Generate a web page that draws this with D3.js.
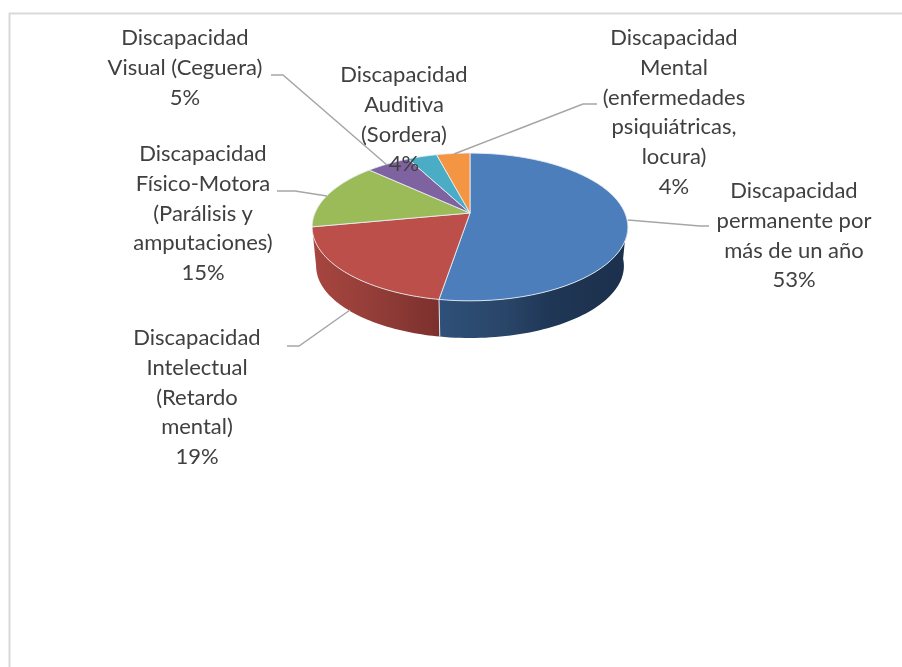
<!DOCTYPE html>
<html><head><meta charset="utf-8">
<style>html,body{margin:0;padding:0;background:#fff}svg{display:block;filter:blur(0.45px)}text{font-variant-ligatures:none}</style>
<script src="https://cdnjs.cloudflare.com/ajax/libs/d3/7.8.5/d3.min.js"></script>
</head><body><svg id="c" width="902" height="667"></svg>
<script>
const categories=["Discapacidad permanente por más de un año","Discapacidad Intelectual (Retardo mental)","Discapacidad Físico-Motora (Parálisis y amputaciones)","Discapacidad Visual (Ceguera)","Discapacidad Auditiva (Sordera)","Discapacidad Mental (enfermedades psiquiátricas, locura)"];
const values=[52.6,19.4,14.9,5.4,3.6,4.1];
const colors=["#4c7ebb","#bd4f4b","#9bbb59","#7f63a1","#4aacc5","#f49544"];
const labelLines=[
 ["Discapacidad","permanente por","más de un año"],
 ["Discapacidad","Intelectual","(Retardo","mental)"],
 ["Discapacidad","Físico-Motora","(Parálisis y","amputaciones)"],
 ["Discapacidad","Visual (Ceguera)"],
 ["Discapacidad","Auditiva","(Sordera)"],
 ["Discapacidad","Mental","(enfermedades","psiquiátricas,","locura)"]];
const labelAnchors=[[794,191],[197,338],[203,154],[185,38],[404,75],[674,38]];
const lineGap=29.8;
const leaders=[
 [[628,220],[700,226],[709,226]],
 [[350,310],[299,346],[287,346]],
 [[327,196],[295,191],[277,191]],
 [[387,165],[283,75],[271,75]],
 null,
 [[454,154],[583,104],[597,104]]];

const svg=d3.select("#c");
svg.append("path").attr("d","M902,13.5H9.5V667").attr("fill","none").attr("stroke","#d9d9d9").attr("stroke-width",2);

const pie=d3.pie().sort(null);
const arcs=pie(values);
// perspective mapping of the unit disc onto the screen
const CX=470,R=155,A=213,B=-31,C=0.189;
const CY=227,shrink=0.975,depth=39;
function proj(ang,level){
  const u=Math.sin(ang),v=Math.cos(ang),w=1+C*v;
  const x=CX+R*u/w,y=(A+B*v)/w;
  if(!level)return [x,y];
  return [CX+(x-CX)*shrink,CY+(y-CY)*shrink+depth];
}
const line=d3.line();
const sample=(a,b,level)=>d3.range(0,61).map(i=>proj(a+(b-a)*i/60,level));

const defs=svg.append("defs");
function grad(id,stops,x1,x2){
  const g=defs.append("linearGradient").attr("id",id).attr("gradientUnits","userSpaceOnUse").attr("x1",x1).attr("x2",x2).attr("y1",0).attr("y2",0);
  stops.forEach(s=>g.append("stop").attr("offset",s[0]).attr("stop-color",s[1]));
}
grad("wBlue",[[0,"#2f5079"],[0.35,"#294568"],[0.6,"#1f3655"],[1,"#1b304b"]],440,628);
grad("wRed",[[0,"#a8453f"],[0.45,"#953e39"],[1,"#7b302d"]],312,441);

// walls of the front slices
const split=arcs[0].endAngle, visL=arcs[1].endAngle;
const visR=Math.PI-Math.acos(C)+0.0;
[[visR-0.1,split,"url(#wBlue)"],[split,visL,"url(#wRed)"]].forEach(w=>{
  const t=sample(w[0],w[1],0),b=sample(w[0],w[1],1).reverse();
  svg.append("path").attr("d",line(t.concat(b))+"Z").attr("fill",w[2]);
});
svg.append("path").attr("d",line([proj(split,0),proj(split,1)])).attr("stroke","#dfe6ee").attr("stroke-width",1).attr("fill","none");

// top faces
svg.append("g").selectAll("path").data(arcs).join("path")
  .attr("d",d=>line([[CX,A]].concat(sample(d.startAngle,d.endAngle,0)))+"Z")
  .attr("fill",(d,i)=>colors[i])
  .attr("stroke","#e8eef5").attr("stroke-width",1).attr("stroke-linejoin","round").attr("stroke-opacity",0.85);

// leader lines
svg.append("g").selectAll("path").data(leaders.filter(Boolean)).join("path")
  .attr("d",d=>line(d)).attr("fill","none").attr("stroke","#a6a6a6").attr("stroke-width",1.5);

// labels
const fmt=d3.format(".0%"),total=d3.sum(values);
const t=svg.append("g").attr("font-family","Lato, 'Open Sans', sans-serif").attr("font-size",22).attr("fill","#404040").attr("text-anchor","middle");
labelLines.forEach((ls,i)=>{
  const all=ls.concat(fmt(values[i]/total));
  all.forEach((s,j)=>t.append("text").attr("x",labelAnchors[i][0]).attr("y",labelAnchors[i][1]+7+j*lineGap).text(s));
});
</script></body></html>
